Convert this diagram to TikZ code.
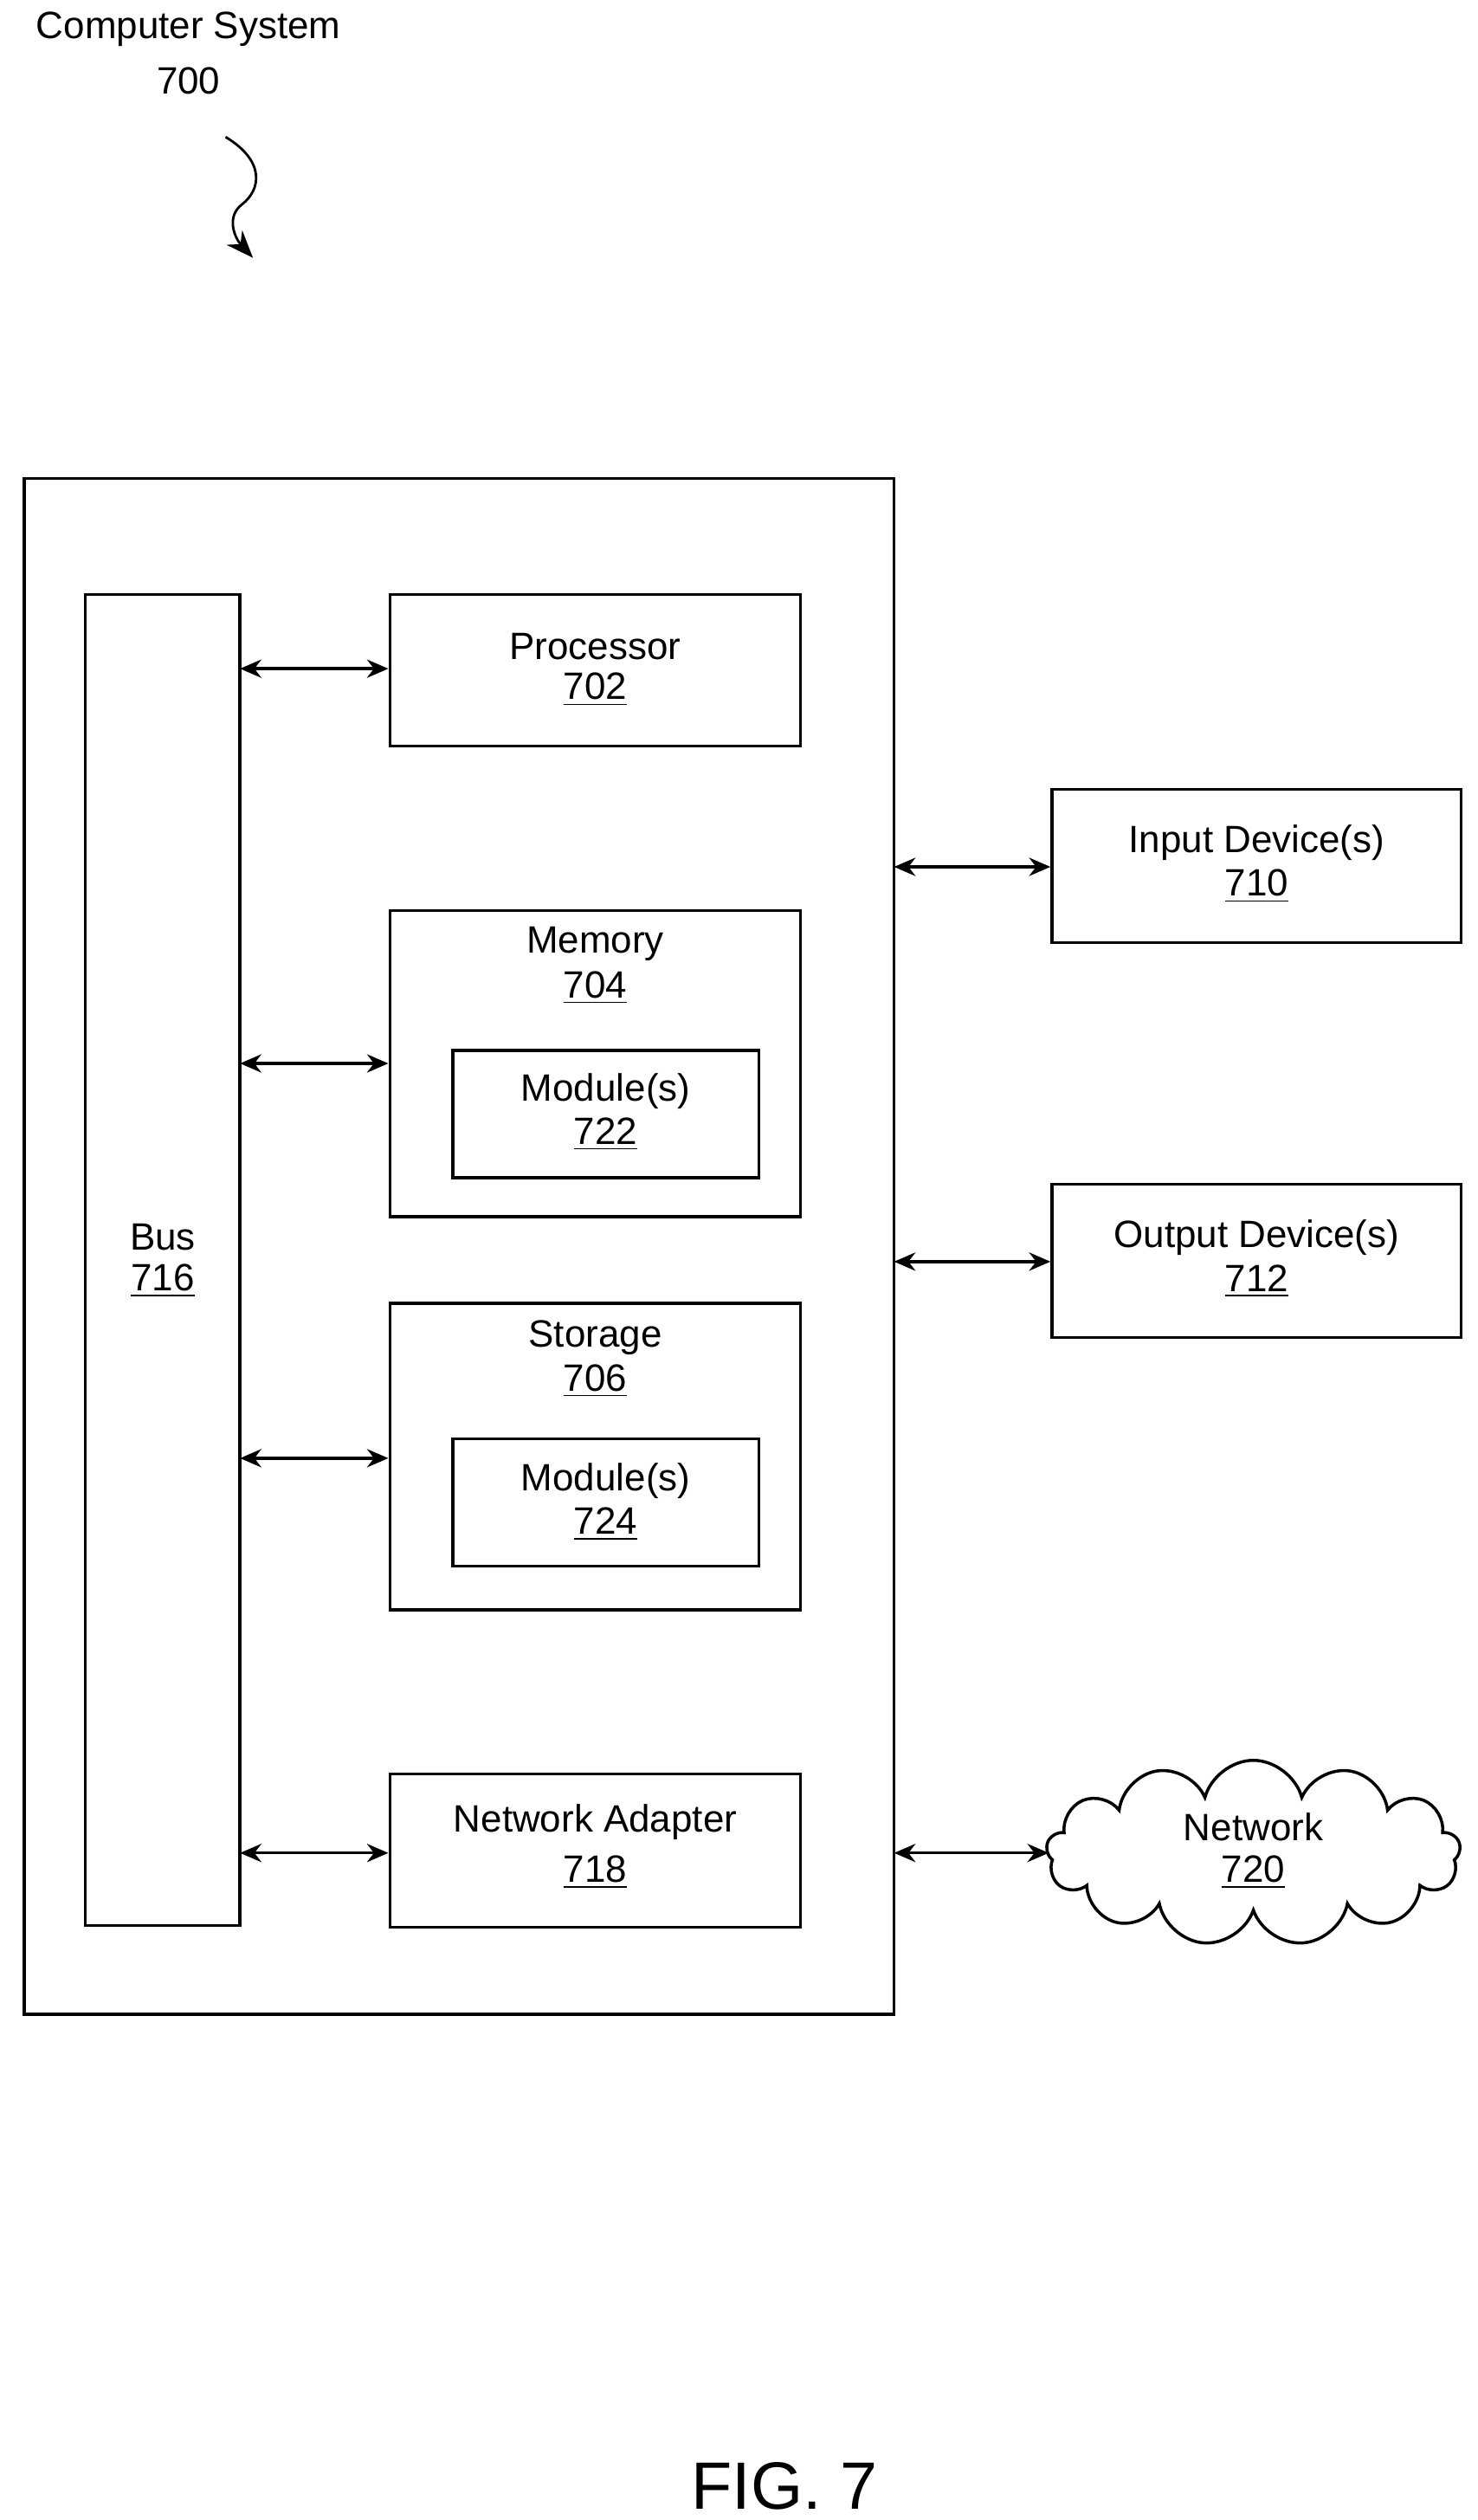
\documentclass[tikz,border=0pt]{standalone}
\usepackage{fontspec}
\setmainfont{Liberation Sans}
\usetikzlibrary{shapes.symbols,arrows.meta}
\begin{document}
\begin{tikzpicture}[x=0.0186cm,y=-0.0186cm,
  box/.style={draw,line width=1pt},
  lbl/.style={font=\fontsize{12.5}{14}\selectfont,align=center},
  dbl/.style={{Stealth[length=7pt,width=6pt]}-{Stealth[length=7pt,width=6pt]},line width=1pt}]
\useasboundingbox (0,0) rectangle (917,1564);
\node[lbl] (t1) at (117,18) {Computer System};
\node[lbl] (t2) at (117,50) {700};
\coordinate (s1) at (140,85);
\coordinate (s2) at (157,160);
\draw[line width=0.8pt,-{Stealth[length=9pt,width=7pt]}] (s1) .. controls (165,100) and (162,118) .. (150,127) .. controls (140,135) and (146,148) .. (s2);
\draw[box] (15,297) rectangle (555,1250);
\node[box,minimum width=96*0.0186cm,minimum height=826*0.0186cm,inner sep=0] (bus) at (101,782) {};
\node[lbl] at (101,768) {Bus};
\node[lbl] at (101,795) {\underline{716}};
\node[box,minimum width=255*0.0186cm,minimum height=94*0.0186cm] (p) at (369.5,416) {};
\node[lbl] at (369.5,401) {Processor};
\node[lbl] at (369.5,428) {\underline{702}};
\node[box,minimum width=255*0.0186cm,minimum height=190*0.0186cm] (m) at (369.5,660) {};
\node[lbl] at (369.5,586) {Memory};
\node[lbl] at (369.5,613) {\underline{704}};
\node[box,minimum width=190*0.0186cm,minimum height=79*0.0186cm] (m2) at (376,691.5) {};
\node[lbl] at (376,677) {Module(s)};
\node[lbl] at (376,704) {\underline{722}};
\node[box,minimum width=255*0.0186cm,minimum height=190*0.0186cm] (s) at (369.5,904) {};
\node[lbl] at (369.5,830) {Storage};
\node[lbl] at (369.5,857) {\underline{706}};
\node[box,minimum width=190*0.0186cm,minimum height=79*0.0186cm] (s3) at (376,932.5) {};
\node[lbl] at (376,919) {Module(s)};
\node[lbl] at (376,946) {\underline{724}};
\node[box,minimum width=255*0.0186cm,minimum height=95*0.0186cm] (na) at (369.5,1148.5) {};
\node[lbl] at (369.5,1131) {Network Adapter};
\node[lbl] at (369.5,1162) {\underline{718}};
\node[box,minimum width=254*0.0186cm,minimum height=95*0.0186cm] (in) at (780,537.5) {};
\node[lbl] at (780,523) {Input Device(s)};
\node[lbl] at (780,550) {\underline{710}};
\node[box,minimum width=254*0.0186cm,minimum height=95*0.0186cm] (out) at (780,782.5) {};
\node[lbl] at (780,768) {Output Device(s)};
\node[lbl] at (780,795) {\underline{712}};
\node[cloud,draw,line width=1pt,cloud puffs=13,aspect=2.2,minimum width=257*0.0186cm,minimum height=115*0.0186cm] (net) at (778,1150) {};
\node[lbl] at (778,1134) {Network};
\node[lbl] at (778,1162) {\underline{720}};
\coordinate (b1) at (149,415); \coordinate (b2) at (149,660);
\coordinate (b3) at (149,905); \coordinate (b4) at (149,1150);
\draw[dbl] (b1) -- (p.west |- b1);
\draw[dbl] (b2) -- (m.west |- b2);
\draw[dbl] (b3) -- (s.west |- b3);
\draw[dbl] (b4) -- (na.west |- b4);
\coordinate (o1) at (555,538); \coordinate (o2) at (555,783); \coordinate (o3) at (555,1150);
\draw[dbl] (o1) -- (in.west |- o1);
\draw[dbl] (o2) -- (out.west |- o2);
\draw[dbl] (o3) -- (651,1150);
\node[font=\fontsize{22}{26}\selectfont] (fig) at (487,1543) {FIG. 7};
\end{tikzpicture}
\end{document}
